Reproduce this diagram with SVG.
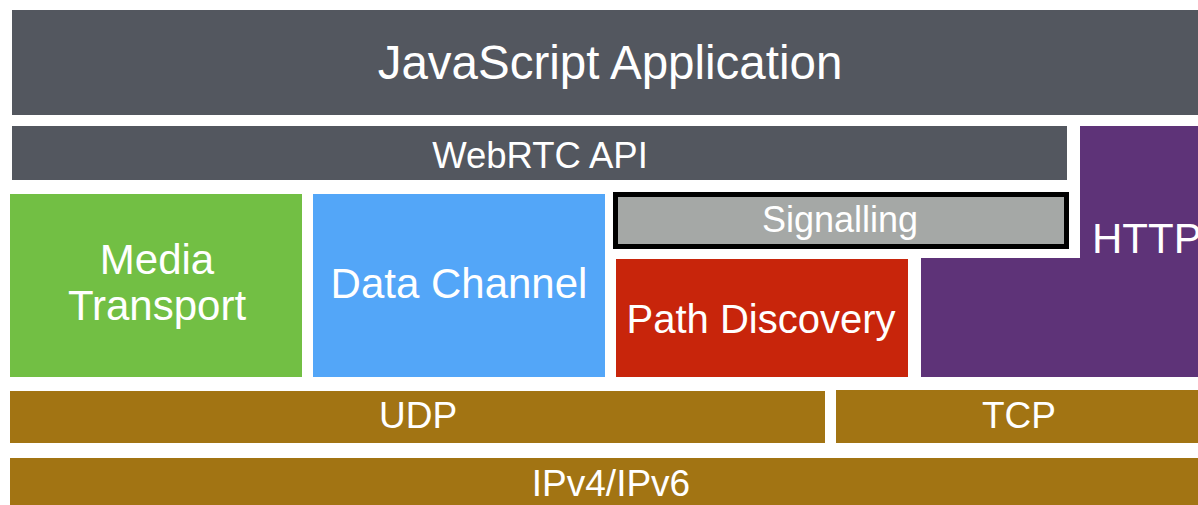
<svg xmlns="http://www.w3.org/2000/svg" width="1198" height="505" viewBox="0 0 1198 505">
<style>
text{font-family:"Liberation Sans",Arial,sans-serif;fill:#ffffff;text-anchor:middle}
.dark{fill:#53575f}
.brown{fill:#a27413}
</style>
<rect width="1198" height="505" fill="#ffffff"/>
<g id="js-app">
<rect class="dark" x="12" y="10" width="1186" height="105"/>
<text x="610" y="79" font-size="47.5">JavaScript Application</text>
</g>
<g id="webrtc-api">
<rect class="dark" x="12" y="126" width="1055" height="54"/>
<text x="540" y="168" font-size="36.5">WebRTC API</text>
</g>
<g id="http">
<path d="M1080 126H1198V377H921V258H1080Z" fill="#5e3378"/>
<text x="1092" y="253" font-size="42" style="text-anchor:start">HTTP</text>
</g>
<g id="media-transport">
<rect x="10" y="194" width="292" height="183" fill="#72bf44"/>
<text x="157" y="274" font-size="42">Media</text>
<text x="157" y="320" font-size="42">Transport</text>
</g>
<g id="data-channel">
<rect x="313" y="194" width="292" height="183" fill="#53a6f8"/>
<text x="459" y="298" font-size="42">Data Channel</text>
</g>
<g id="signalling">
<rect x="615.5" y="194.5" width="451" height="52" fill="#a5a8a6" stroke="#000000" stroke-width="5"/>
<text x="840" y="232" font-size="36">Signalling</text>
</g>
<g id="path-discovery">
<rect x="616" y="259" width="292" height="118" fill="#c8250b"/>
<text x="761" y="333" font-size="40">Path Discovery</text>
</g>
<g id="udp">
<rect class="brown" x="10" y="391" width="815" height="52"/>
<text x="418" y="428" font-size="37">UDP</text>
</g>
<g id="tcp">
<rect class="brown" x="836" y="390" width="362" height="53"/>
<text x="1019" y="428" font-size="37">TCP</text>
</g>
<g id="ip">
<rect class="brown" x="10" y="458" width="1188" height="47"/>
<text x="611" y="496" font-size="37">IPv4/IPv6</text>
</g>
<g id="connectors"></g>
</svg>
